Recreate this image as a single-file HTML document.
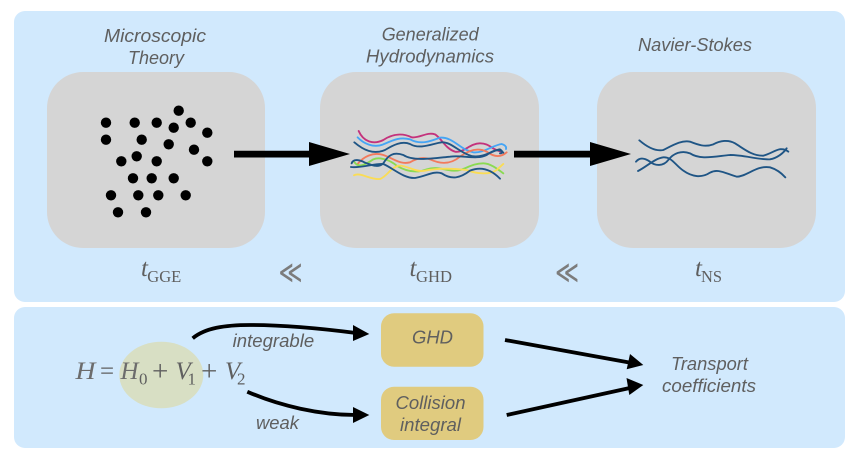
<!DOCTYPE html>
<html><head><meta charset="utf-8"><style>
html,body{margin:0;padding:0;background:#fff;width:864px;height:469px;overflow:hidden}
svg{display:block;filter:blur(.3px)}
.s{font-family:"Liberation Sans",sans-serif;font-style:italic;font-size:18px;fill:#5f5f5f}
.m{font-family:"Liberation Serif",serif;font-style:italic;font-size:25px;fill:#5f5f5f}
.h{font-family:"Liberation Serif",serif;font-style:italic;font-size:25px;fill:#6c6c6c}
.n{font-family:"Liberation Serif",serif;font-size:25px;fill:#5f5f5f}
.p{font-family:"Liberation Serif",serif;font-size:29px;fill:#5f5f5f}
.b{font-family:"Liberation Serif",serif;font-size:17px;fill:#5f5f5f}
.w{fill:none;stroke-width:5.6;stroke-linecap:round;stroke-linejoin:round}
</style></head><body>
<svg width="864" height="469" viewBox="0 0 864 469" xmlns="http://www.w3.org/2000/svg">
<rect x="14" y="11" width="831" height="291" rx="11" fill="#d1e9fd"/>
<rect x="14" y="307" width="831" height="141" rx="11" fill="#d1e9fd"/>
<rect x="47" y="72" width="218" height="176" rx="36" fill="#d5d5d5"/>
<rect x="320" y="72" width="219" height="176" rx="36" fill="#d5d5d5"/>
<rect x="597" y="72" width="219" height="176" rx="36" fill="#d5d5d5"/>

<g fill="#000">
<circle cx="178.7" cy="110.7" r="5.2"/><circle cx="106" cy="122.7" r="5.2"/><circle cx="134.7" cy="122.7" r="5.2"/><circle cx="156.7" cy="122.7" r="5.2"/><circle cx="173.7" cy="127.7" r="5.2"/><circle cx="190.7" cy="122.7" r="5.2"/><circle cx="207.3" cy="132.7" r="5.2"/><circle cx="106" cy="139.7" r="5.2"/><circle cx="141.7" cy="139.7" r="5.2"/><circle cx="168.7" cy="144.3" r="5.2"/><circle cx="194" cy="149.7" r="5.2"/><circle cx="121.3" cy="161.3" r="5.2"/><circle cx="136.7" cy="156.3" r="5.2"/><circle cx="156.7" cy="161.3" r="5.2"/><circle cx="207.3" cy="161.3" r="5.2"/><circle cx="133" cy="178.3" r="5.2"/><circle cx="151.7" cy="178.3" r="5.2"/><circle cx="173.7" cy="178.3" r="5.2"/><circle cx="111" cy="195.3" r="5.2"/><circle cx="138.3" cy="195.3" r="5.2"/><circle cx="158.3" cy="195.3" r="5.2"/><circle cx="185.7" cy="195.3" r="5.2"/><circle cx="118" cy="212.3" r="5.2"/><circle cx="146" cy="212.3" r="5.2"/>
</g>

<g transform="translate(320 100) scale(.3333)">
<path class="w" stroke="#c4327c" d="M116,93 C130,125 160,135 190,120 C220,100 250,100 275,112 C300,115 320,95 345,103 C365,115 375,145 405,155 C430,160 450,130 480,130 C510,130 515,150 545,155"/>
<path class="w" stroke="#45a5f5" d="M113,112 C130,130 160,145 190,133 C220,120 240,110 270,118 C300,135 330,125 360,113 C400,110 420,150 460,157 C490,160 520,135 545,132 C555,135 560,140 558,147"/>
<path class="w" stroke="#f27a5c" d="M113,192 C130,170 160,155 190,165 C220,175 240,195 270,187 C290,175 310,170 330,178 C360,192 390,195 420,170 C440,155 470,140 500,155 C520,170 540,175 560,157"/>
<path class="w" stroke="#8ada52" d="M103,186 C115,205 135,195 160,178 C180,170 210,180 230,197 C260,215 290,220 320,208 C350,198 370,210 400,212 C430,215 450,190 490,190 C510,190 530,205 550,220"/>
<path class="w" stroke="#fadc55" d="M102,226 C120,215 150,240 180,237 C200,230 210,205 235,197 C260,195 280,215 310,213 C350,205 400,205 440,210 C470,222 510,225 530,210 L550,192"/>
<path class="w" stroke="#1f5585" d="M103,127 C130,150 160,165 195,150 C220,135 245,122 270,132 C300,150 340,130 365,127 C395,125 420,160 455,168 C490,175 520,150 540,148 C550,155 548,160 540,160"/>
<path class="w" stroke="#1f5585" d="M95,190 C100,175 120,180 135,188 C155,195 175,205 190,190 C205,165 220,155 250,165 C280,185 340,175 390,170 C430,165 470,180 500,165 C520,150 540,145 550,158"/>
<path class="w" stroke="#1f5585" d="M93,201 C120,205 165,190 190,192 C220,205 250,235 285,234 C320,228 340,212 365,220 C395,240 420,235 450,212 C480,200 510,205 540,236"/>
</g>

<g transform="translate(600 110) scale(.3333)">
<path class="w" stroke="#1f5585" d="M118,91 C140,110 165,125 190,120 C220,105 245,90 270,95 C295,105 315,112 340,103 C360,92 385,88 405,100 C430,115 455,138 490,137 C520,130 540,105 565,125"/>
<path class="w" stroke="#1f5585" d="M108,155 C120,140 135,145 150,155 C165,168 190,170 205,150 C220,130 245,120 270,130 C300,150 340,140 390,135 C430,135 480,150 510,148 C530,145 550,130 560,115"/>
<path class="w" stroke="#1f5585" d="M114,183 C140,170 165,145 190,142 C215,140 225,165 250,182 C275,200 305,205 330,188 C355,175 375,190 410,200 C440,200 470,165 510,172 C530,178 545,190 556,202"/>
</g>

<path d="M234,150.7 H309 V142 L350,154 L309,166 V157.5 H234 Z" fill="#000"/>
<path d="M514,150.7 H590 V142 L631,154 L590,166 V157.5 H514 Z" fill="#000"/>

<ellipse cx="161.3" cy="375" rx="42" ry="33.3" fill="#d8dfc4"/>
<rect x="381" y="313.3" width="102.5" height="53.4" rx="13" fill="#e0cb7f"/>
<rect x="381" y="386.7" width="102.5" height="53.3" rx="13" fill="#e0cb7f"/>

<g fill="none" stroke="#000" stroke-width="3.8">
<path d="M192.7,338.3 C205,328 225,325 250,325 C285,325 325,329 356,333"/>
<path d="M247.3,391.7 C280,406 320,415 356,415"/>
<path d="M505,340 L632,363"/>
<path d="M506.7,415 L632,387.5"/>
</g>
<g fill="#000">
<path d="M369.3,334 L353,325 L353,341 Z"/>
<path d="M369.3,415 L353,407 L353,423 Z"/>
<path d="M643.3,365 L630,354 L626.7,369.3 Z"/>
<path d="M643.3,385 L626.5,378 L629.3,395 Z"/>
</g>

<text class="s" x="104" y="42" textLength="102" lengthAdjust="spacingAndGlyphs">Microscopic</text>
<text class="s" x="128" y="64" textLength="56" lengthAdjust="spacingAndGlyphs">Theory</text>
<text class="s" x="381.7" y="40.7" textLength="97" lengthAdjust="spacingAndGlyphs">Generalized</text>
<text class="s" x="366" y="62.3" textLength="128" lengthAdjust="spacingAndGlyphs">Hydrodynamics</text>
<text class="s" x="638" y="51" textLength="114" lengthAdjust="spacingAndGlyphs">Navier-Stokes</text>

<text class="m" x="141" y="276">t</text><text class="b" x="147.3" y="282" textLength="34" lengthAdjust="spacingAndGlyphs">GGE</text>
<text class="m" x="409.5" y="276">t</text><text class="b" x="416" y="282" textLength="36" lengthAdjust="spacingAndGlyphs">GHD</text>
<text class="m" x="695" y="276">t</text><text class="b" x="701" y="282" textLength="21" lengthAdjust="spacingAndGlyphs">NS</text>
<g transform="translate(290.5 272) scale(1 1.4)"><text y="8" text-anchor="middle" font-family="DejaVu Sans,sans-serif" font-size="23" fill="#7c7c7c">≪</text></g>
<g transform="translate(567 272) scale(1 1.4)"><text y="8" text-anchor="middle" font-family="DejaVu Sans,sans-serif" font-size="23" fill="#7c7c7c">≪</text></g>

<text class="h" x="75.5" y="379" textLength="20" lengthAdjust="spacingAndGlyphs">H</text>
<text class="n" x="100" y="379">=</text>
<text class="h" x="120.5" y="379" textLength="18" lengthAdjust="spacingAndGlyphs">H</text><text class="b" x="139" y="384.5">0</text>
<text class="p" x="152" y="380.6">+</text>
<text class="m" x="175.5" y="379">V</text><text class="b" x="187.5" y="384.5">1</text>
<text class="p" x="201" y="380.6">+</text>
<text class="m" x="225" y="379">V</text><text class="b" x="237" y="384.5">2</text>

<text class="s" x="232.7" y="347" textLength="81.5" lengthAdjust="spacingAndGlyphs">integrable</text>
<text class="s" x="256" y="429" textLength="43" lengthAdjust="spacingAndGlyphs">weak</text>
<text class="s" x="412" y="343.5" textLength="41" lengthAdjust="spacingAndGlyphs">GHD</text>
<text class="s" x="395.5" y="409" textLength="70" lengthAdjust="spacingAndGlyphs">Collision</text>
<text class="s" x="400" y="431" textLength="61" lengthAdjust="spacingAndGlyphs">integral</text>
<text class="s" x="671" y="370" textLength="77" lengthAdjust="spacingAndGlyphs">Transport</text>
<text class="s" x="662" y="392" textLength="94" lengthAdjust="spacingAndGlyphs">coefficients</text>
</svg>
</body></html>
